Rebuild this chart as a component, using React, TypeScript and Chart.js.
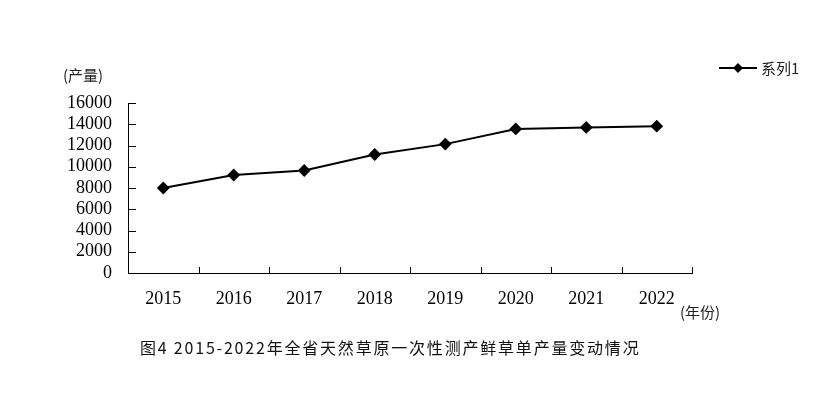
import React, { useEffect, useRef } from "react";
import { Chart, registerables } from "chart.js";

Chart.register(...registerables);

const categories = ["2015", "2016", "2017", "2018", "2019", "2020", "2021", "2022"];
const seriesName = "系列1";
const seriesValues = [8000, 9220, 9650, 11150, 12130, 13560, 13700, 13820];
const yTicks = [0, 2000, 4000, 6000, 8000, 10000, 12000, 14000, 16000];
const yUnit = "(产量)";
const xUnit = "(年份)";
const titleText = "图4 2015-2022年全省天然草原一次性测产鲜草单产量变动情况";

const W = 820;
const H = 399;
const AREA = { left: 128, right: 692, top: 103, bottom: 273 };

const innerTicks = {
  id: "innerTicks",
  afterDraw(chart: any) {
    const { ctx, scales } = chart;
    const x = scales.x;
    const y = scales.y;
    ctx.save();
    ctx.strokeStyle = "#000";
    ctx.lineWidth = 1;
    ctx.beginPath();
    yTicks.forEach((v) => {
      const py = Math.round(y.getPixelForValue(v)) + 0.5;
      ctx.moveTo(x.left, py);
      ctx.lineTo(x.left + 8, py);
    });
    const n = categories.length;
    for (let i = 0; i < n; i++) {
      let px: number;
      if (i < n - 1) px = (x.getPixelForValue(i) + x.getPixelForValue(i + 1)) / 2;
      else px = x.right;
      px = Math.round(px) + 0.5;
      ctx.moveTo(px, y.bottom);
      ctx.lineTo(px, y.bottom - 6);
    }
    ctx.stroke();
    ctx.restore();
  },
};

export default function App() {
  const ref = useRef<HTMLCanvasElement | null>(null);
  useEffect(() => {
    if (!ref.current) return;
    const chart = new Chart(ref.current, {
      type: "line",
      data: {
        labels: categories,
        datasets: [
          {
            label: seriesName,
            data: seriesValues,
            borderColor: "#000",
            backgroundColor: "#000",
            borderWidth: 2,
            pointStyle: "rectRot",
            pointRadius: 5,
            pointBackgroundColor: "#000",
            pointBorderColor: "#000",
            tension: 0,
          },
        ],
      },
      options: {
        responsive: false,
        animation: false,
        layout: {
          padding: { left: 0, top: AREA.top, right: W - AREA.right, bottom: 0 },
        },
        plugins: {
          legend: { display: false },
          title: { display: false },
          tooltip: { enabled: false },
        },
        scales: {
          x: {
            type: "category",
            offset: true,
            grid: { display: true, drawOnChartArea: false, drawTicks: false, offset: true },
            border: { display: true, color: "#000", width: 1 },
            ticks: {
              color: "#000",
              padding: 15,
              maxRotation: 0,
              autoSkip: false,
              font: { family: "'Liberation Serif', 'Times New Roman', serif", size: 18 },
            },
            afterFit(scale: any) {
              scale.height = H - AREA.bottom;
            },
          },
          y: {
            type: "linear",
            min: 0,
            max: 16000,
            afterBuildTicks(scale: any) {
              scale.ticks = yTicks.map((v) => ({ value: v }));
            },
            grid: { display: true, drawOnChartArea: false, drawTicks: false },
            border: { display: true, color: "#000", width: 1 },
            ticks: {
              color: "#000",
              padding: 16,
              autoSkip: false,
              callback: (v: any) => String(v),
              font: { family: "'Liberation Serif', 'Times New Roman', serif", size: 18 },
            },
            afterFit(scale: any) {
              scale.width = AREA.left;
            },
          },
        },
      },
      plugins: [innerTicks],
    });
    return () => chart.destroy();
  }, []);

  const cjk = "'Noto Sans CJK SC', 'Noto Sans', sans-serif";
  return (
    <div style={{ position: "absolute", left: 0, top: 0, width: W, height: H, background: "#fff" }}>
      <canvas ref={ref} width={W} height={H} style={{ position: "absolute", left: 0, top: 0 }} />
      <div style={{ position: "absolute", left: 63, top: 64, fontFamily: cjk, fontSize: 15, color: "#222", lineHeight: "22px" }}>
        {yUnit}
      </div>
      <div style={{ position: "absolute", left: 680, top: 301, fontFamily: cjk, fontSize: 15, color: "#222", lineHeight: "22px" }}>
        {xUnit}
      </div>
      <div style={{ position: "absolute", left: 719, top: 57, display: "flex", alignItems: "center", height: 22 }}>
        <svg width={38} height={14} style={{ display: "block" }}>
          <line x1={0} y1={7} x2={38} y2={7} stroke="#000" strokeWidth={2} />
          <polygon points="19,2 24,7 19,12 14,7" fill="#000" />
        </svg>
        <span style={{ marginLeft: 4, fontFamily: cjk, fontSize: 15, color: "#222", lineHeight: "22px" }}>{seriesName}</span>
      </div>
      <div
        style={{
          position: "absolute",
          left: 140,
          top: 336,
          fontFamily: cjk,
          fontSize: 16,
          letterSpacing: "1.8px",
          color: "#111",
          lineHeight: "22px",
          whiteSpace: "nowrap",
        }}
      >
        {titleText}
      </div>
    </div>
  );
}
